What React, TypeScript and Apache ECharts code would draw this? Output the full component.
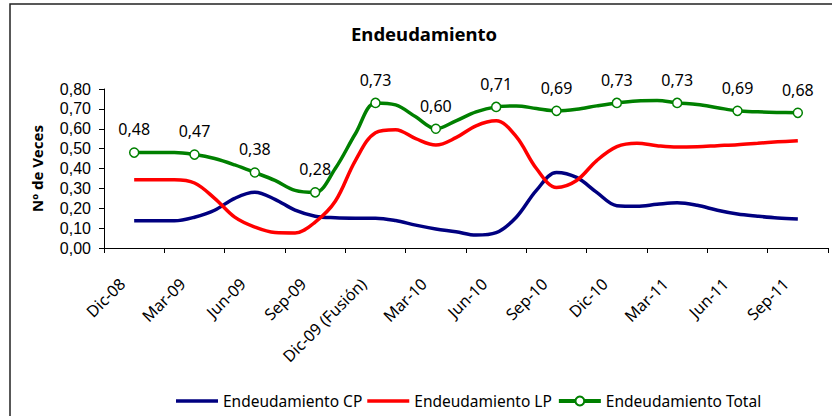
import React, { useEffect, useRef } from "react";
import * as echarts from "echarts";

const quarterLabels = [
  "Dic-08", "Mar-09", "Jun-09", "Sep-09", "Dic-09 (Fusión)", "Mar-10",
  "Jun-10", "Sep-10", "Dic-10", "Mar-11", "Jun-11", "Sep-11",
];

const months = [
  "Dic-08", "Ene-09", "Feb-09", "Mar-09", "Abr-09", "May-09", "Jun-09", "Jul-09", "Ago-09", "Sep-09",
  "Oct-09", "Nov-09", "Dic-09", "Ene-10", "Feb-10", "Mar-10", "Abr-10", "May-10", "Jun-10", "Jul-10",
  "Ago-10", "Sep-10", "Oct-10", "Nov-10", "Dic-10", "Ene-11", "Feb-11", "Mar-11", "Abr-11", "May-11",
  "Jun-11", "Jul-11", "Ago-11", "Sep-11",
];

const padBefore = "Nov-08";
const padAfter = "Oct-11";

const cpValues = [
  0.137, 0.137, 0.137, 0.155, 0.19, 0.25, 0.28, 0.245, 0.19, 0.16,
  0.152, 0.15, 0.15, 0.138, 0.115, 0.096, 0.082, 0.065, 0.077, 0.155,
  0.29, 0.38, 0.355, 0.28, 0.213, 0.21, 0.22, 0.228, 0.215, 0.19,
  0.171, 0.16, 0.151, 0.146,
];

const lpValues = [
  0.343, 0.343, 0.343, 0.327, 0.25, 0.155, 0.105, 0.078, 0.076, 0.13,
  0.235, 0.44, 0.58, 0.595, 0.55, 0.518, 0.555, 0.615, 0.64, 0.56,
  0.40, 0.305, 0.34, 0.44, 0.51, 0.527, 0.515, 0.508, 0.51, 0.515,
  0.52, 0.527, 0.534, 0.54,
];

const totalValues = [
  0.48, 0.48, 0.48, 0.47, 0.45, 0.418, 0.38, 0.34, 0.29, 0.28,
  0.40, 0.575, 0.73, 0.72, 0.66, 0.60, 0.64, 0.685, 0.71, 0.715,
  0.702, 0.69, 0.698, 0.715, 0.73, 0.74, 0.742, 0.73, 0.722, 0.706,
  0.69, 0.685, 0.682, 0.68,
];

const fmt = (v: number) => v.toFixed(2).replace(".", ",");
const FONT = "Noto Sans";
const TICK_FONT = "Liberation Sans";
const LINE_ICON = "path://M0,0 L120,0 L120,10 L0,10 Z";

export default function App() {
  const ref = useRef<HTMLDivElement>(null);

  useEffect(() => {
    document.body.style.margin = "0";
    if (!ref.current) return;
    const chart = echarts.init(ref.current, null, { renderer: "svg" });

    const monthAxis = [padBefore, ...months, padAfter];
    const cpData = months.map((m, i) => [m, cpValues[i]]);
    const lpData = months.map((m, i) => [m, lpValues[i]]);
    const totalData = months.map((m, i) =>
      i % 3 === 0
        ? { value: [m, totalValues[i]], label: { show: true } }
        : { value: [m, totalValues[i]], symbol: "none", label: { show: false } }
    );

    chart.setOption({
      animation: false,
      backgroundColor: "#ffffff",
      textStyle: { fontFamily: FONT, color: "#000" },
      title: {
        text: "Endeudamiento",
        left: 346,
        top: 19,
        textStyle: { fontFamily: FONT, fontSize: 18.5, fontWeight: "bold", color: "#000" },
      },
      graphic: [
        {
          type: "rect",
          shape: { x: 10, y: 4, width: 830, height: 420 },
          style: { fill: "none", stroke: "#222", lineWidth: 1.5 },
          silent: true,
        },
      ],
      legend: {
        left: 171,
        top: 388,
        itemWidth: 42,
        itemHeight: 11,
        itemGap: 5,
        symbolKeepAspect: true,
        lineStyle: { width: 4 },
        textStyle: { fontFamily: FONT, fontSize: 15.5, color: "#000" },
        data: [
          { name: "Endeudamiento CP", icon: LINE_ICON },
          { name: "Endeudamiento LP", icon: LINE_ICON },
          { name: "Endeudamiento Total" },
        ],
      },
      grid: { left: 104, right: 4, top: 89, bottom: 168, containLabel: false },
      xAxis: [
        {
          type: "category",
          data: monthAxis,
          boundaryGap: true,
          show: false,
          position: "top",
        },
        {
          type: "category",
          data: quarterLabels,
          boundaryGap: true,
          position: "bottom",
          axisLine: { show: true, lineStyle: { color: "#000", width: 1 } },
          axisTick: { show: true, length: 5, lineStyle: { color: "#000" } },
          axisLabel: {
            rotate: 45,
            interval: 0,
            margin: 21,
            padding: [0, 17, 0, 0],
            fontFamily: FONT,
            fontSize: 16,
            color: "#000",
          },
          splitLine: { show: false },
        },
      ],
      yAxis: {
        type: "value",
        min: 0,
        max: 0.8,
        interval: 0.1,
        name: "Nº de Veces",
        nameLocation: "middle",
        nameGap: 60,
        nameTextStyle: { fontFamily: FONT, fontSize: 15, fontWeight: "bold", color: "#000" },
        axisLine: { show: true, lineStyle: { color: "#000", width: 1 } },
        axisTick: { show: true, length: 5, lineStyle: { color: "#000" } },
        axisLabel: {
          margin: 13,
          fontFamily: TICK_FONT,
          fontSize: 16,
          lineHeight: 16,
          color: "#000",
          formatter: (v: number) => fmt(v),
        },
        splitLine: { show: false },
      },
      series: [
        {
          name: "Endeudamiento CP",
          type: "line",
          xAxisIndex: 0,
          data: cpData,
          smooth: 0.35,
          symbol: "none",
          lineStyle: { color: "#000080", width: 3.5 },
          itemStyle: { color: "#000080" },
        },
        {
          name: "Endeudamiento LP",
          type: "line",
          xAxisIndex: 0,
          data: lpData,
          smooth: 0.35,
          symbol: "none",
          lineStyle: { color: "#ff0000", width: 3.5 },
          itemStyle: { color: "#ff0000" },
        },
        {
          name: "Endeudamiento Total",
          type: "line",
          xAxisIndex: 0,
          data: totalData,
          smooth: 0.35,
          symbol: "circle",
          symbolSize: 9,
          showAllSymbol: true,
          lineStyle: { color: "#008000", width: 3.5 },
          itemStyle: { color: "#ffffff", borderColor: "#008000", borderWidth: 1.5 },
          label: {
            show: false,
            position: "top",
            distance: 10,
            fontFamily: FONT,
            fontSize: 16,
            color: "#000",
            formatter: (p: any) => fmt(p.value[1]),
          },
          z: 3,
        },
      ],
    });

    return () => chart.dispose();
  }, []);

  return <div ref={ref} style={{ width: 832, height: 416 }} />;
}
